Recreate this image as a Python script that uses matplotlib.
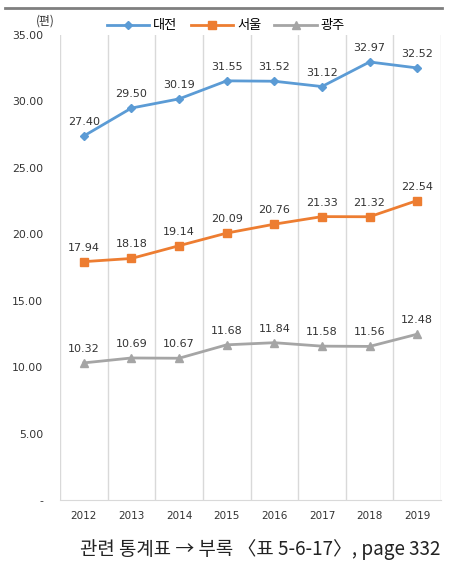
import numpy as np
import matplotlib.pyplot as plt
from matplotlib.lines import Line2D

plt.rcParams['font.family'] = ['Noto Sans CJK KR', 'DejaVu Sans']

years = ['2012', '2013', '2014', '2015', '2016', '2017', '2018', '2019']
daejeon = [27.40, 29.50, 30.19, 31.55, 31.52, 31.12, 32.97, 32.52]
seoul = [17.94, 18.18, 19.14, 20.09, 20.76, 21.33, 21.32, 22.54]
gwangju = [10.32, 10.69, 10.67, 11.68, 11.84, 11.58, 11.56, 12.48]
series_names = ['대전', '서울', '광주']
y_ticks = [0, 5, 10, 15, 20, 25, 30, 35]

colors = ['#5B9BD5', '#ED7D31', '#A5A5A5']
markers = ['D', 's', '^']
msizes = [4.5, 6, 6]

fig = plt.figure(figsize=(4.70, 5.61), dpi=100)
ax = fig.add_axes([60 / 470, 61 / 561, 381 / 470, 465 / 561])

x = np.arange(len(years))
for vals, c, m, ms, name in zip([daejeon, seoul, gwangju], colors, markers, msizes, series_names):
    ax.plot(x, vals, color=c, lw=2, marker=m, ms=ms, label=name, zorder=3)
    for xi, v in zip(x, vals):
        ax.annotate(f'{v:.2f}', (xi, v), xytext=(0, 6.5), textcoords='offset points',
                    ha='center', va='bottom', fontsize=8, color='#333333',
                    family='DejaVu Sans')

ax.set_xlim(-0.5, len(years) - 0.5)
ax.set_ylim(0, 35)
ax.set_yticks(y_ticks)
ax.set_yticklabels(['-'] + [f'{t:.2f}' for t in y_ticks[1:]], fontsize=7.8,
                   family='DejaVu Sans', color='#333333')
ax.set_xticks(x)
ax.set_xticklabels(years, fontsize=7.5, family='DejaVu Sans', color='#333333')
ax.tick_params(length=0, pad=8)
ax.tick_params(axis='y', pad=12)

# vertical separators between categories
for b in np.arange(-0.5, len(years), 1.0):
    ax.axvline(b, color='#D9D9D9', lw=1, zorder=1)
for s in ['top', 'right', 'left']:
    ax.spines[s].set_visible(False)
ax.spines['bottom'].set_color('#D9D9D9')

handles = [Line2D([0], [0], color=c, lw=2, marker=m, ms=ms) for c, m, ms in zip(colors, markers, msizes)]
fig.legend(handles, series_names, loc='center', bbox_to_anchor=(226 / 470, 1 - 26 / 561),
           ncol=3, frameon=False, fontsize=9.5, handlelength=3.2, columnspacing=1.0,
           handletextpad=0.3)

fig.text(45 / 470, 1 - 21 / 561, '(편)', ha='center', va='center', fontsize=8.5, color='#333333')
fig.add_artist(Line2D([5 / 470, 442 / 470], [1 - 8 / 561, 1 - 8 / 561], color='#7F7F7F', lw=2))
fig.text(440 / 470, 1 - 549 / 561, '관련 통계표 → 부록 〈표 5-6-17〉, page 332',
         ha='right', va='center', fontsize=13.6, color='#222222')

fig.savefig('out.png', dpi=100)
